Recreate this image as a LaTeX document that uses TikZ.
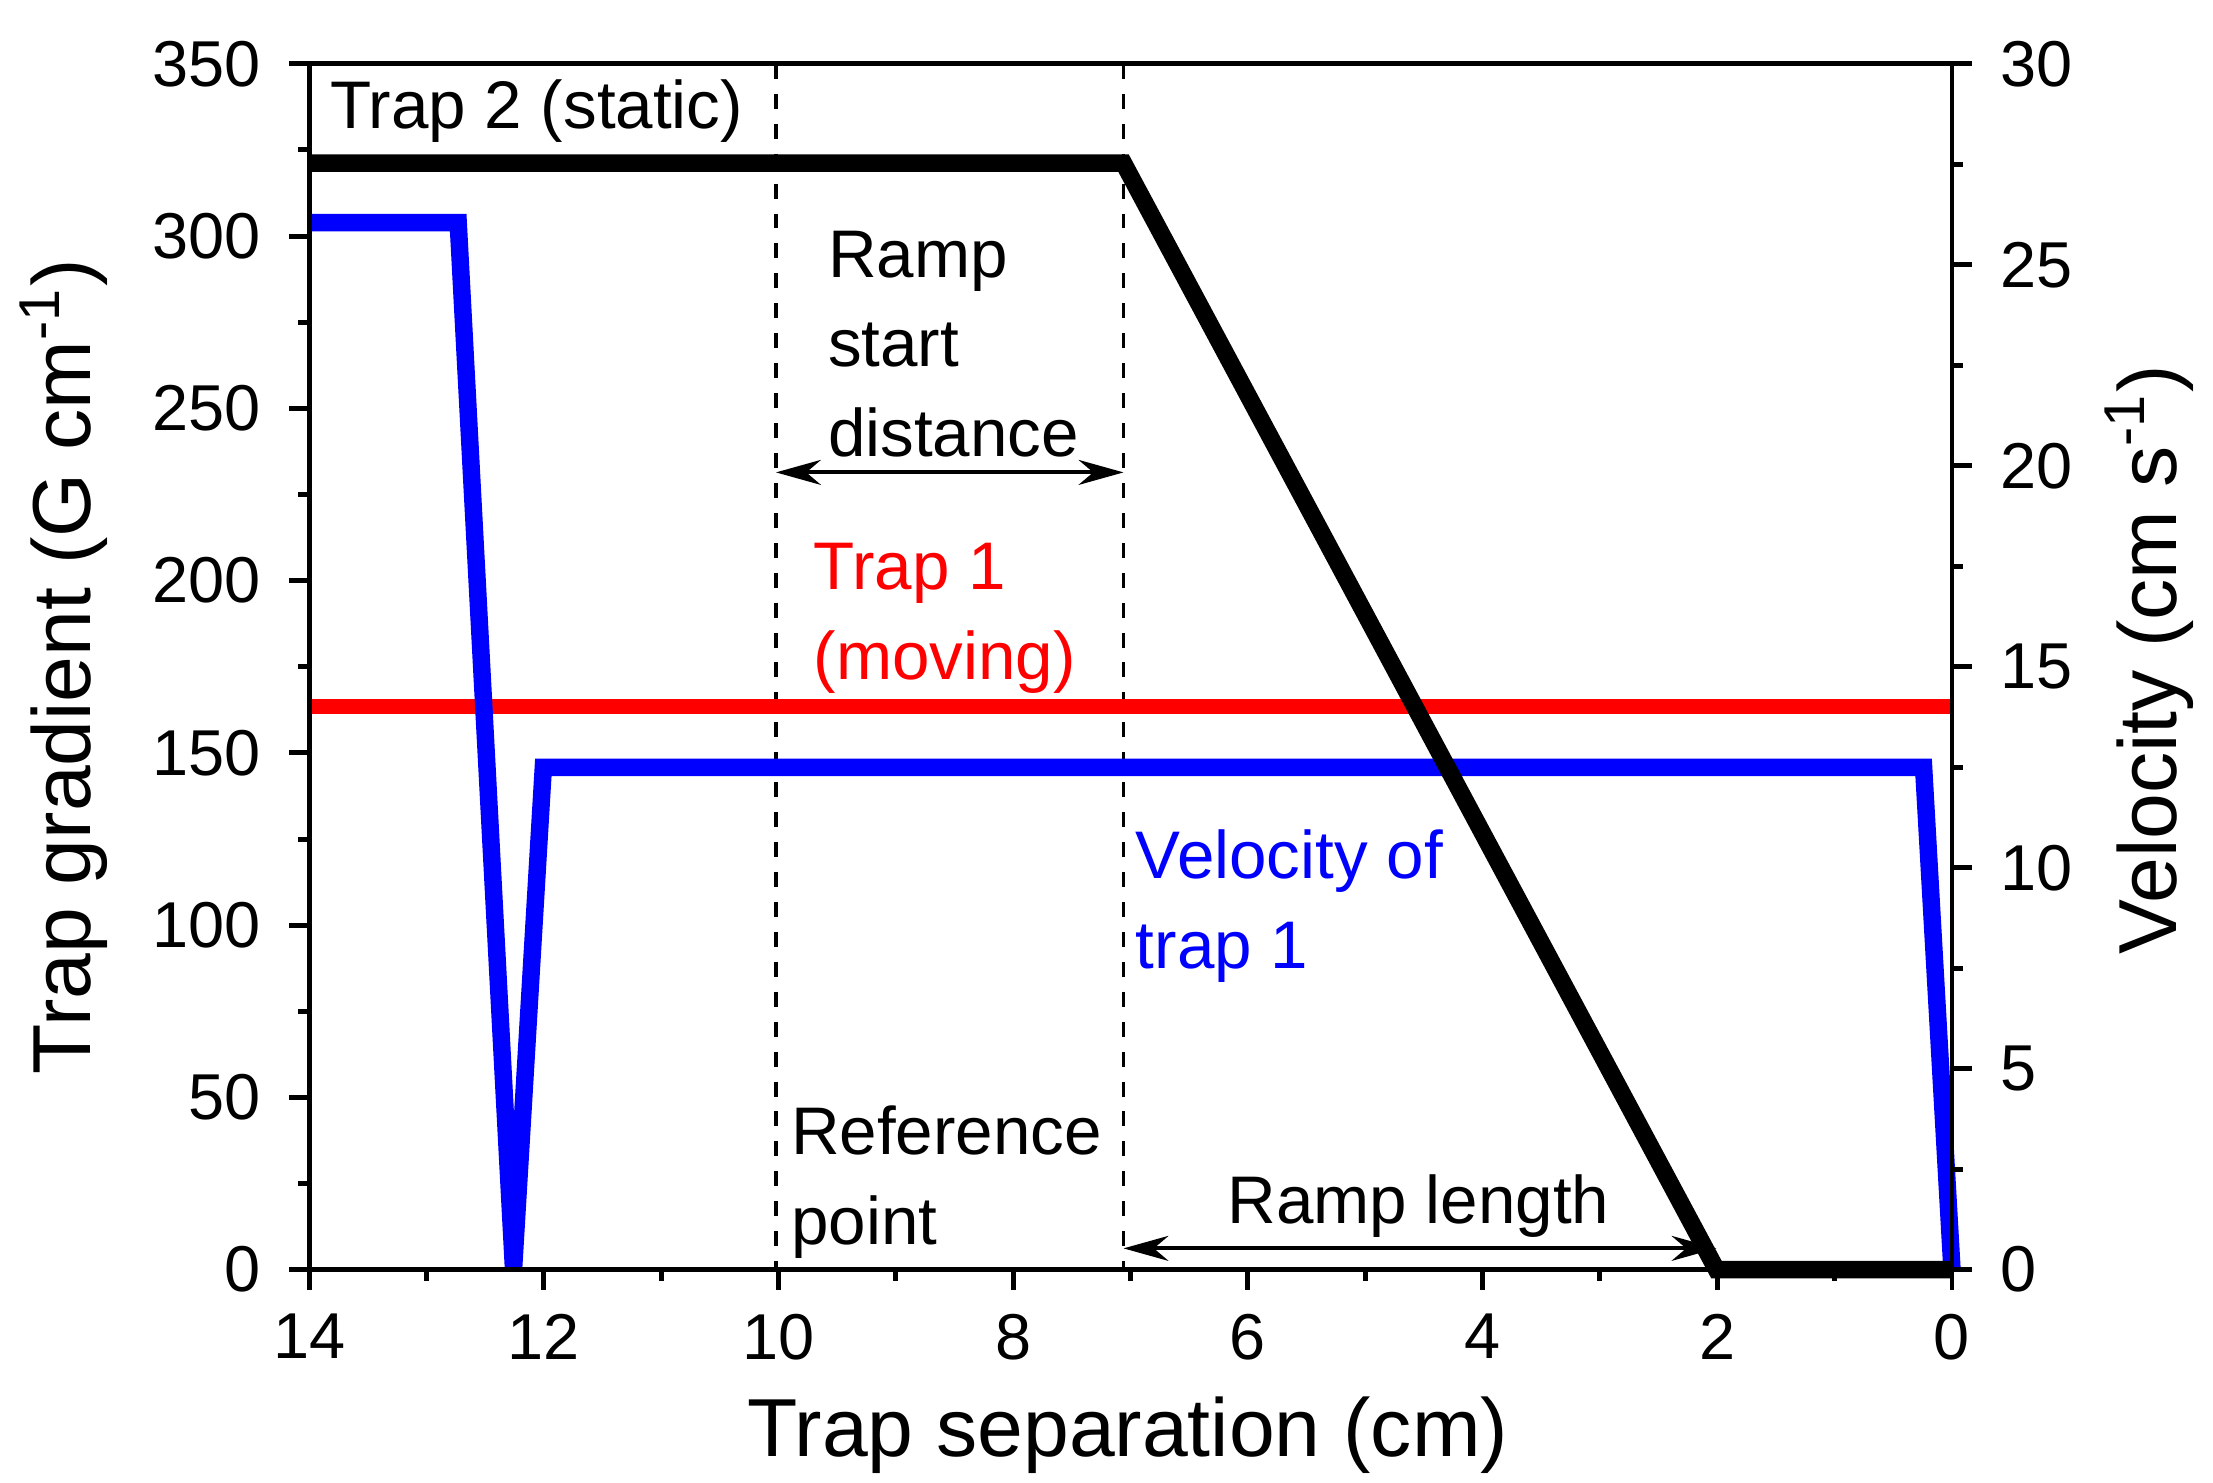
\documentclass[tikz,border=0pt]{standalone}
\usepackage{fontspec}
\setmainfont{Liberation Sans}
\usetikzlibrary{arrows.meta}
\begin{document}
\begin{tikzpicture}[x=0.01cm,y=-0.01cm,
  tick/.style={font=\fontsize{13}{15}\selectfont},
  ann/.style={font=\fontsize{13.5}{18}\selectfont,align=left,inner sep=0pt},
  ttl/.style={font=\fontsize{16.5}{19}\selectfont},
  dim/.style={line width=0.8pt,{Stealth[length=9pt,width=5pt]}-{Stealth[length=9pt,width=5pt]}}]
\useasboundingbox (0,0) rectangle (1560,1045);
% dashed lines
\draw[dashed,line width=0.7pt] (547,45) -- (547,895);
\draw[dashed,line width=0.7pt] (792,45) -- (792,895);
% curves
\draw[red,line width=3pt] (218,498) -- (1376,498);
\draw[blue,line width=3.5pt,line join=miter] (218,157) -- (323,157) -- (362,895) -- (383,541) -- (1356,541) -- (1376,895);
\draw[black,line width=3.5pt,line join=miter] (218,115) -- (792,115) -- (1210,895) -- (1376,895);
% frame
\draw[line width=1pt] (218,45) rectangle (1376,895);
% left ticks
\foreach \g in {0,50,...,350}{
  \pgfmathsetmacro{\yy}{895-2.42857*\g}
  \draw[line width=1pt] (204,\yy) -- (218,\yy);
  \node[tick,anchor=east] (l\g) at (196,\yy) {\g};}
\foreach \g in {25,75,...,325}{
  \pgfmathsetmacro{\yy}{895-2.42857*\g}
  \draw[line width=1pt] (210,\yy) -- (218,\yy);}
% right ticks
\foreach \v in {0,5,...,30}{
  \pgfmathsetmacro{\yy}{895-28.333*\v}
  \draw[line width=1pt] (1376,\yy) -- (1390,\yy);
  \node[tick,anchor=west] (r\v) at (1398,\yy) {\v};}
\foreach \v in {2.5,7.5,...,27.5}{
  \pgfmathsetmacro{\yy}{895-28.333*\v}
  \draw[line width=1pt] (1376,\yy) -- (1384,\yy);}
% bottom ticks
\foreach \d in {0,2,...,14}{
  \pgfmathsetmacro{\xx}{1376-82.714*\d}
  \draw[line width=1pt] (\xx,895) -- (\xx,909);
  \node[tick,anchor=north] (b\d) at (\xx,914) {\d};}
\foreach \d in {1,3,...,13}{
  \pgfmathsetmacro{\xx}{1376-82.714*\d}
  \draw[line width=1pt] (\xx,895) -- (\xx,903);}
% titles
\node[ttl] (xt) at (795,1012) {Trap separation (cm)};
\node[ttl,rotate=90] (ylt) at (45,470) {Trap gradient (G cm\textsuperscript{-1})};
\node[ttl,rotate=90] (yrt) at (1515,465) {Velocity (cm s\textsuperscript{-1})};
% annotations
\node[ann,anchor=west] (t2) at (232,78) {Trap 2 (static)};
\node[ann,anchor=north west] (rs) at (583,162) {Ramp\\start\\distance};
\node[ann,anchor=north west,red] (t1) at (573,382) {Trap 1\\(moving)};
\node[ann,anchor=north west,blue] (vt) at (800,584) {Velocity of\\trap 1};
\node[ann,anchor=north west] (rp) at (557,779) {Reference\\point};
\node[ann] (rl) at (1000,850) {Ramp length};
% dimension arrows
\coordinate (a1) at (547,333); \coordinate (a2) at (792,333);
\coordinate (c1) at (792,880); \coordinate (c2) at (1210,880);
\draw[dim] (a1) -- (a2);
\draw[dim] (c1) -- (c2);
\end{tikzpicture}
\end{document}
